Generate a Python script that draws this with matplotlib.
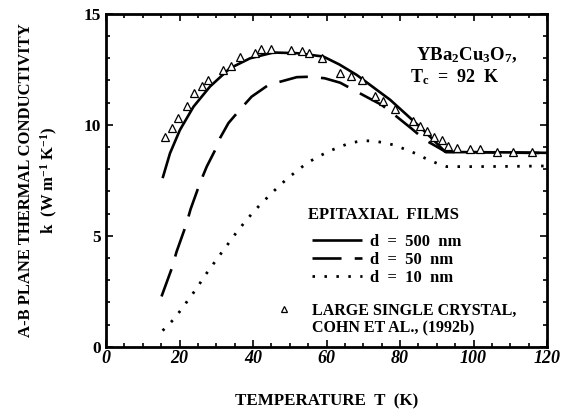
import numpy as np
import matplotlib
matplotlib.use('Agg')
import matplotlib.pyplot as plt
from matplotlib.lines import Line2D
from matplotlib.ticker import MultipleLocator

plt.rcParams['font.family'] = 'Liberation Serif'
plt.rcParams['font.weight'] = 'bold'
plt.rcParams['mathtext.fontset'] = 'custom'
plt.rcParams['mathtext.rm'] = 'Liberation Serif:bold'
plt.rcParams['mathtext.bf'] = 'Liberation Serif:bold'
plt.rcParams['mathtext.default'] = 'bf'

# d = 500 nm film
T_500 = [15.4, 17.4, 20.1, 23.8, 28.3, 33.7, 39.2, 45.5, 51.9, 59.1, 63.5, 68.2,
         72.5, 77.3, 81.5, 86.3, 89.5, 92.3, 100, 110, 120]
k_500 = [7.6, 8.72, 9.77, 10.82, 11.73, 12.55, 13.0, 13.26, 13.23, 13.08, 12.72, 12.25,
         11.72, 11.13, 10.5, 9.77, 9.25, 8.78, 8.77, 8.76, 8.74]

# d = 50 nm film
T_50 = [15.1, 17.9, 19.2, 21.8, 23.0, 25.6, 27.4, 29.7, 31.0, 33.3, 36.5, 39.6, 44.2,
        51.9, 55.5, 59.5, 63.7, 67.3, 71, 75, 79.1, 83, 86.8, 92.5, 100, 110, 120]
k_50 = [2.27, 3.54, 4.29, 5.5, 6.2, 7.4, 8.12, 8.87, 9.4, 10.08, 10.7, 11.27, 11.8,
        12.15, 12.17, 12.1, 11.9, 11.58, 11.25, 10.9, 10.37, 9.85, 9.32, 8.78, 8.77, 8.75, 8.73]

# d = 10 nm film
T_10 = [15.4, 18.3, 20.7, 22.8, 24.7, 26.6, 28.7, 30.8, 33.0, 35.2, 37.5, 40.2, 42.8,
        45.8, 48.7, 51.7, 54.6, 57.3, 60.5, 63.7, 66.4, 69.5, 72.7, 75.4, 78.2, 81.4,
        84.1, 86.8, 90, 92.7, 100, 110, 120]
k_10 = [0.73, 1.22, 1.73, 2.22, 2.64, 3.14, 3.62, 4.1, 4.59, 5.09, 5.57, 6.1, 6.55,
        7.04, 7.49, 7.9, 8.27, 8.53, 8.8, 9.02, 9.18, 9.28, 9.28, 9.2, 9.1, 8.9,
        8.72, 8.5, 8.27, 8.12, 8.12, 8.13, 8.15]

# large single crystal (Cohn et al.)
T_xtal = [16.0, 17.9, 19.5, 22.0, 24.0, 26.0, 27.8, 31.9, 34.0, 36.4, 40.5, 42.2, 44.8,
          50.3, 53.2, 55.3, 58.7, 63.6, 66.6, 69.7, 73.2, 75.4, 78.6, 83.6, 85.4, 87.2,
          89.3, 91.3, 93.1, 95.4, 99.0, 101.8, 106.3, 110.8, 115.8]
k_xtal = [9.47, 9.88, 10.3, 10.86, 11.43, 11.76, 12.0, 12.48, 12.67, 13.08, 13.23, 13.41, 13.44,
          13.38, 13.33, 13.26, 13.03, 12.33, 12.2, 12.03, 11.31, 11.08, 10.71, 10.19, 9.95, 9.74,
          9.47, 9.32, 9.07, 8.98, 8.92, 8.92, 8.8, 8.8, 8.8]

fig = plt.figure(figsize=(5.64, 4.09), dpi=100)
ax = fig.add_axes([0.188, 0.152, 0.782, 0.814])

l500, = ax.plot(T_500, k_500, color='black', lw=1.9, solid_capstyle='butt')
l50, = ax.plot(T_50, k_50, color='black', lw=1.9, dashes=(11, 5), dash_capstyle='butt')
l10, = ax.plot(T_10, k_10, color='black', lw=2.0, dashes=(0.9, 3.4))
xt, = ax.plot(T_xtal, k_xtal, linestyle='none', marker='^', markersize=6,
              markerfacecolor='white', markeredgecolor='black', markeredgewidth=0.9)

ax.set_xlim(0, 120)
ax.set_ylim(0, 15)
ax.yaxis.set_major_locator(MultipleLocator(5))
ax.yaxis.set_minor_locator(MultipleLocator(1))
ax.set_xticks(np.arange(0, 121, 20))
ax.set_xticks(np.arange(0, 121, 5), minor=True)
ax.tick_params(which='both', direction='in', top=True, right=True, width=1.2)
ax.tick_params(which='major', length=5)
ax.tick_params(which='minor', length=3)
ax.tick_params(axis='x', which='major', pad=2)
for s in ax.spines.values():
    s.set_linewidth(2)

for lab in ax.get_xticklabels():
    lab.set_fontstyle('italic')
    lab.set_fontweight('bold')
    lab.set_fontsize(13)
for lab in ax.get_yticklabels():
    lab.set_fontweight('bold')
    lab.set_fontsize(12.5)

ax.set_xlabel('TEMPERATURE  T  (K)', fontsize=12.2, fontweight='bold', labelpad=19)
ax.set_ylabel('A-B PLANE THERMAL CONDUCTIVITY\nk  (W m$^{-1}$ K$^{-1}$)',
              fontsize=12, fontweight='bold', labelpad=17, linespacing=1.35)

ax.text(0.818, 0.877, 'YBa$_{2}$Cu$_{3}$O$_{7}$,', transform=ax.transAxes,
        ha='center', va='center', fontsize=13.5, fontweight='bold')
ax.text(0.79, 0.81, 'T$_{c}$  =  92  K', transform=ax.transAxes,
        ha='center', va='center', fontsize=13, fontweight='bold')

ax.text(0.458, 0.396, 'EPITAXIAL  FILMS', transform=ax.transAxes,
        ha='left', va='center', fontsize=12, fontweight='bold')
leg1 = ax.legend([l500, l50, l10], ['d  =  500  nm', 'd  =  50  nm', 'd  =  10  nm'],
                 loc='upper left', bbox_to_anchor=(0.44, 0.373),
                 frameon=False, handlelength=3.0, handletextpad=0.5, labelspacing=0.12,
                 prop={'size': 12, 'weight': 'bold'}, borderpad=0.2)
ax.add_artist(leg1)
blank = Line2D([], [], linestyle='none')
ax.legend([xt, blank], ['LARGE SINGLE CRYSTAL,', 'COHN ET AL., (1992b)'],
          loc='upper left', bbox_to_anchor=(0.361, 0.165), frameon=False,
          handlelength=1.0, handletextpad=1.2, labelspacing=0.0, borderpad=0.2,
          prop={'size': 11.5, 'weight': 'bold'}, markerscale=0.8)

fig.savefig('out.png', dpi=100)
